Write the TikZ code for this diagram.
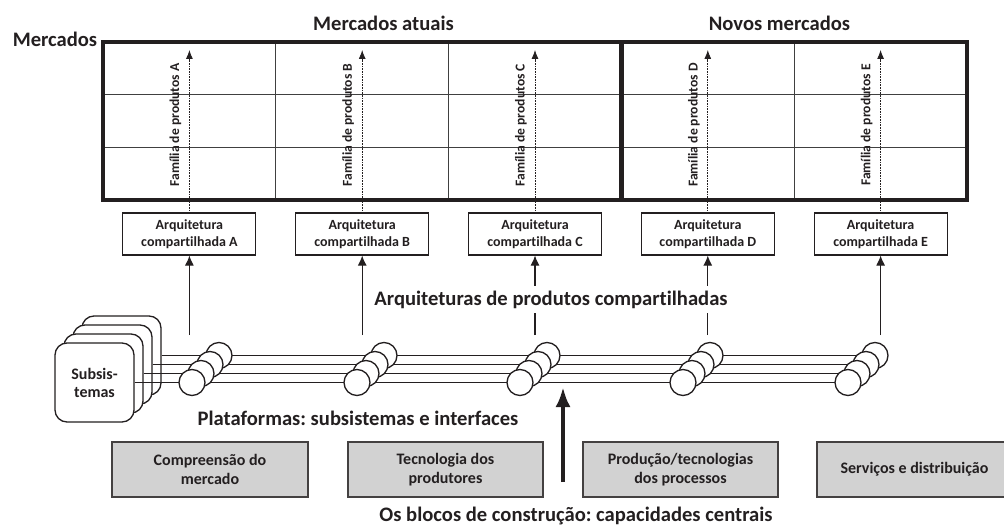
\documentclass[tikz,border=0pt]{standalone}
\usepackage{fontspec}
\setmainfont{Carlito}[Ligatures=NoCommon]
\usetikzlibrary{arrows.meta}
\definecolor{ink}{HTML}{231F20}
\definecolor{boxgray}{HTML}{D2D2D2}
\definecolor{gridc}{HTML}{404040}
\frenchspacing
\begin{document}
\begin{tikzpicture}[x=1pt,y=-1pt,
  every node/.style={text=ink, inner sep=0pt},
  head/.style={font=\fontsize{20.6}{24}\selectfont\bfseries},
  arch/.style={draw=ink, line width=1.1pt, fill=white, minimum width=133pt, minimum height=42pt, align=center, font=\fontsize{14}{17}\selectfont\bfseries},
  fam/.style={rotate=90, font=\fontsize{13.6}{16}\selectfont\bfseries},
  block/.style={draw=ink!85, line width=1.4pt, fill=boxgray, minimum height=55pt, align=center, font=\fontsize{16}{19.5}\selectfont\bfseries},
  card/.style={draw=ink, line width=1.3pt, fill=white, rounded corners=12pt, minimum width=79pt, minimum height=79pt, align=center, font=\fontsize{16}{18}\selectfont\bfseries},
  joint/.style={circle, draw=ink, line width=1.3pt, fill=white, minimum size=26pt},
  dotarrow/.style={draw=ink, line width=0.8pt, dash pattern=on 0.8pt off 0.8pt, -{Latex[length=9pt,width=7pt]}},
  solidarrow/.style={draw=ink, line width=1.1pt, -{Latex[length=10pt,width=9pt]}},
  bigarrow/.style={draw=ink, line width=4pt, -{Latex[length=20pt,width=15pt]}},
  bus/.style={draw=ink, line width=1.2pt},
  thin/.style={draw=gridc, line width=1pt},
  thick/.style={draw=ink, line width=4.5pt}
]
\clip (0,0) rectangle (1004,532);

% ---- market grid ----
\foreach \x in {275.8,448.6,794.2} \draw[thin] (\x,42) -- (\x,202);
\foreach \y in {94.7,147.3} \draw[thin] (103,\y) -- (967,\y);
\draw[thick] (103,42) rectangle (967,200);
\draw[thick] (621.4,42) -- (621.4,200);

\node[head, anchor=base] (hMerc) at (55,47) {Mercados};
\node[head, anchor=base] (hAtuais) at (383.5,31) {Mercados atuais};
\node[head, anchor=base] (hNovos) at (779.5,31) {Novos mercados};

% ---- columns: families, architectures ----
\foreach \L/\cx in {A/189.4,B/362.2,C/535,D/707.8,E/880.6}{
  \node[fam] (fam\L) at (\cx-14,125) {Família de produtos \L};
  \node[arch] (arch\L) at (\cx,234) {Arquitetura\\compartilhada \L};
  \coordinate (top\L) at (\cx,50);
  \draw[dotarrow] (arch\L.north) -- (top\L);
  \coordinate (src\L) at (\cx,335);
  \draw[solidarrow] (src\L) -- (arch\L.south);
}

\node[head, anchor=base, fill=white, inner xsep=3pt, inner ysep=5pt] (arqLbl) at (551,305) {Arquiteturas de produtos compartilhadas};

% ---- subsystem cards ----
\foreach \j in {0,1,2}{
  \node[card] (card\j) at ({94.5+(3-\j)*9},{382.5-(3-\j)*9}) {};
}
\node[card] (card3) at (94.5,382.5) {Subsis-\\temas};

% ---- bus lines ----
\foreach \j in {0,...,3}{
  \coordinate (busEnd\j) at ({848+(3-\j)*9},{382.5-(3-\j)*9});
  \draw[bus] (card\j.east) -- (busEnd\j);
}

% ---- interface joints ----
\foreach \g/\bx in {A/192,B/357,C/520,D/683,E/848}{
  \foreach \j in {0,...,3}{
    \node[joint] (c\g\j) at ({\bx+(3-\j)*9},{382.5-(3-\j)*9}) {};
  }
}

\node[head, anchor=base] (platLbl) at (358,425) {Plataformas: subsistemas e interfaces};

% ---- building blocks ----
\node[block, minimum width=196pt] (blk1) at (210,469.5) {Compreensão do\\mercado};
\node[block, minimum width=195pt] (blk2) at (445.5,469.5) {Tecnologia dos\\produtores};
\node[block, minimum width=195pt] (blk3) at (680.5,469.5) {Produção/tecnologias\\dos processos};
\node[block, minimum width=195pt] (blk4) at (914.5,469.5) {Serviços e distribuição};

\coordinate (capSrc) at (563,482);
\coordinate (capTgt) at (563,387);
\draw[bigarrow] (capSrc) -- (capTgt);

\node[head, anchor=base] (blkLbl) at (576,521) {Os blocos de construção: capacidades centrais};
\end{tikzpicture}
\end{document}
